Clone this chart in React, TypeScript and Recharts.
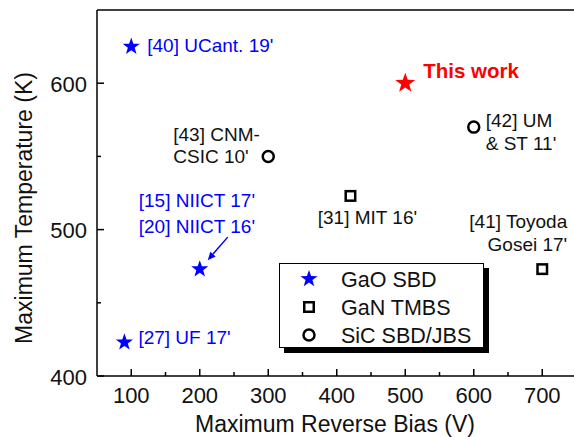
import React from 'react';
import { ScatterChart, Scatter, XAxis, YAxis, ReferenceLine, Legend } from 'recharts';

// axis ticks
const xMajorTicks = [100, 200, 300, 400, 500, 600, 700];
const xMinorTicks = [150, 250, 350, 450, 550, 650];
const yMajorTicks = [400, 500, 600];
const yMinorTicks = [450, 550];

// GaO SBD
const gaoBias = [100, 200, 90];
const gaoTemp = [625, 473, 423];
const gaoRefs = ["[40] UCant. 19'", "[15] NIICT 17'\n[20] NIICT 16'", "[27] UF 17'"];

// GaN TMBS
const ganBias = [420, 700];
const ganTemp = [523, 473];
const ganRefs = ["[31] MIT 16'", "[41] Toyoda\nGosei 17'"];

// SiC SBD/JBS
const sicBias = [300, 600];
const sicTemp = [550, 570];
const sicRefs = ["[43] CNM-\nCSIC 10'", "[42] UM\n& ST 11'"];

// this work
const thisBias = [500];
const thisTemp = [600];
const thisRefs = ['This work'];

const seriesNames = ['GaO SBD', 'GaN TMBS', 'SiC SBD/JBS'];

const FONT = "'Liberation Sans', Arial, sans-serif";

const toPoints = (bias: number[], temp: number[], refs: string[]) =>
  bias.map((v, i) => ({ bias: v, temp: temp[i], ref: refs[i] }));

const gaoData = toPoints(gaoBias, gaoTemp, gaoRefs);
const ganData = toPoints(ganBias, ganTemp, ganRefs);
const sicData = toPoints(sicBias, sicTemp, sicRefs);
const thisData = toPoints(thisBias, thisTemp, thisRefs);

// where each annotation sits relative to its marker
type LabelLayout = { dx: number; dys: number[]; anchor: 'start' | 'middle' | 'end'; arrow?: number[] };
const labelLayout: Record<string, LabelLayout> = {
  "[40] UCant. 19'": { dx: 16, dys: [-1], anchor: 'start' },
  "[15] NIICT 17'\n[20] NIICT 16'": { dx: -61, dys: [-69, -43], anchor: 'start', arrow: [28, -32, 8, -9] },
  "[27] UF 17'": { dx: 14, dys: [-5], anchor: 'start' },
  "[31] MIT 16'": { dx: 17, dys: [22], anchor: 'middle' },
  "[41] Toyoda\nGosei 17'": { dx: 25, dys: [-48, -25], anchor: 'end' },
  "[43] CNM-\nCSIC 10'": { dx: -95, dys: [-22, 0], anchor: 'start' },
  "[42] UM\n& ST 11'": { dx: 12, dys: [-7, 16], anchor: 'start' },
  'This work': { dx: 18, dys: [-13], anchor: 'start' },
};

const starPoints = (cx: number, cy: number, r: number) => {
  const pts: string[] = [];
  for (let i = 0; i < 10; i++) {
    const rad = i % 2 === 0 ? r : r * 0.4;
    const a = -Math.PI / 2 + (i * Math.PI) / 5;
    pts.push(`${cx + rad * Math.cos(a)},${cy + rad * Math.sin(a)}`);
  }
  return pts.join(' ');
};

const Marker = ({ kind, cx, cy, color, r }: any) => {
  if (kind === 'star') return <polygon points={starPoints(cx, cy, r)} fill={color} />;
  if (kind === 'square')
    return <rect x={cx - 4.75} y={cy - 4.75} width={9.5} height={9.5} fill="none" stroke="#000" strokeWidth={2.5} />;
  return <circle cx={cx} cy={cy} r={5.5} fill="none" stroke="#000" strokeWidth={2.5} />;
};

const PointShape = (props: any) => {
  const { cx, cy, payload, kind, color, r, bold, fontSize } = props;
  if (cx == null || cy == null) return null;
  const lay = labelLayout[payload.ref];
  const lines = String(payload.ref).split('\n');
  let arrow = null;
  if (lay && lay.arrow) {
    const [x1, y1, x2, y2] = lay.arrow;
    const ax = cx + x2;
    const ay = cy + y2;
    const len = Math.hypot(x2 - x1, y2 - y1);
    const ux = (x2 - x1) / len;
    const uy = (y2 - y1) / len;
    const h = 8;
    const w = 3.5;
    const bx = ax - ux * h;
    const by = ay - uy * h;
    arrow = (
      <g>
        <line x1={cx + x1} y1={cy + y1} x2={bx} y2={by} stroke={color} strokeWidth={1.5} />
        <polygon
          points={`${ax},${ay} ${bx - uy * w},${by + ux * w} ${bx + uy * w},${by - ux * w}`}
          fill={color}
        />
      </g>
    );
  }
  return (
    <g>
      <Marker kind={kind} cx={cx} cy={cy} color={color} r={r} />
      {lay &&
        lines.map((t, i) => (
          <text
            key={i}
            x={cx + lay.dx}
            y={cy + lay.dys[i]}
            textAnchor={lay.anchor}
            dominantBaseline="central"
            fontFamily={FONT}
            fontSize={fontSize}
            fontWeight={bold ? 'bold' : 'normal'}
            fill={color === '#000' ? '#111' : color}
          >
            {t}
          </text>
        ))}
      {arrow}
    </g>
  );
};

const XTick = ({ x, y, payload }: any) => {
  const major = xMajorTicks.includes(payload.value);
  return (
    <g>
      <line x1={x} x2={x} y1={y} y2={y - (major ? 7 : 4)} stroke="#000" strokeWidth={1.5} />
      {major && (
        <text x={x} y={y + 19} textAnchor="middle" dominantBaseline="central" fontFamily={FONT} fontSize={22} fill="#111">
          {payload.value}
        </text>
      )}
    </g>
  );
};

const YTick = ({ x, y, payload }: any) => {
  const major = yMajorTicks.includes(payload.value);
  return (
    <g>
      <line x1={x} x2={x + (major ? 7 : 4)} y1={y} y2={y} stroke="#000" strokeWidth={1.5} />
      {major && (
        <text x={x - 10} y={y + 1} textAnchor="end" dominantBaseline="central" fontFamily={FONT} fontSize={22} fill="#111">
          {payload.value}
        </text>
      )}
    </g>
  );
};

const legendKinds = ['star', 'square', 'circle'];
const legendColors = ['#0000ff', '#000', '#000'];

const LegendBox = () => (
  <div
    style={{
      width: 205,
      height: 85,
      boxSizing: 'border-box',
      border: '1.5px solid #000',
      background: '#fff',
      boxShadow: '5px 5px 0 #000',
    }}
  >
    <svg width={202} height={82} style={{ display: 'block', overflow: 'visible' }}>
      {seriesNames.map((name, i) => (
        <g key={name}>
          <Marker kind={legendKinds[i]} cx={29} cy={15 + i * 28} color={legendColors[i]} r={9} />
          <text x={61} y={16 + i * 28} dominantBaseline="central" fontFamily={FONT} fontSize={21.5} fill="#111">
            {name}
          </text>
        </g>
      ))}
    </svg>
  </div>
);

export default function App() {
  return (
    <div style={{ position: 'absolute', left: 0, top: 0, width: 574, height: 437, overflow: 'hidden', background: '#fff' }}>
      <ScatterChart width={580} height={437} margin={{ top: 10, right: 3.5, bottom: 1, left: 37 }}>
        <XAxis
          type="number"
          dataKey="bias"
          domain={[50, 750]}
          ticks={[...xMajorTicks, ...xMinorTicks].sort((a, b) => a - b)}
          interval={0}
          tickLine={false}
          tickSize={0}
          tickMargin={0}
          tick={<XTick />}
          height={60}
          axisLine={{ stroke: '#000', strokeWidth: 1.5 }}
          allowDataOverflow
        />
        <YAxis
          type="number"
          dataKey="temp"
          domain={[400, 650]}
          ticks={[...yMajorTicks, ...yMinorTicks].sort((a, b) => a - b)}
          interval={0}
          tickLine={false}
          tickSize={0}
          tickMargin={0}
          tick={<YTick />}
          width={60}
          axisLine={{ stroke: '#000', strokeWidth: 1.5 }}
          allowDataOverflow
        />
        <ReferenceLine y={650} stroke="#000" strokeWidth={1.5} />
        <Scatter
          name={seriesNames[0]}
          data={gaoData}
          isAnimationActive={false}
          shape={(p: any) => <PointShape {...p} kind="star" color="#0000ff" r={9} fontSize={19} />}
        />
        <Scatter
          name={seriesNames[1]}
          data={ganData}
          isAnimationActive={false}
          shape={(p: any) => <PointShape {...p} kind="square" color="#000" fontSize={19} />}
        />
        <Scatter
          name={seriesNames[2]}
          data={sicData}
          isAnimationActive={false}
          shape={(p: any) => <PointShape {...p} kind="circle" color="#000" fontSize={19} />}
        />
        <Scatter
          name="This work"
          data={thisData}
          legendType="none"
          isAnimationActive={false}
          shape={(p: any) => <PointShape {...p} kind="star" color="#ff0000" r={10.5} bold fontSize={20.5} />}
        />
        <Legend
          layout="vertical"
          align="center"
          verticalAlign="middle"
          wrapperStyle={{ position: 'absolute', left: 279, top: 263, width: 205, height: 85 }}
          content={() => <LegendBox />}
        />
        <text x={24} y={208} transform="rotate(-90 24 208)" textAnchor="middle" dominantBaseline="central" fontFamily={FONT} fontSize={23} fill="#111">
          Maximum Temperature (K)
        </text>
        <text x={335} y={424} textAnchor="middle" dominantBaseline="central" fontFamily={FONT} fontSize={23} fill="#111">
          Maximum Reverse Bias (V)
        </text>
      </ScatterChart>
    </div>
  );
}
